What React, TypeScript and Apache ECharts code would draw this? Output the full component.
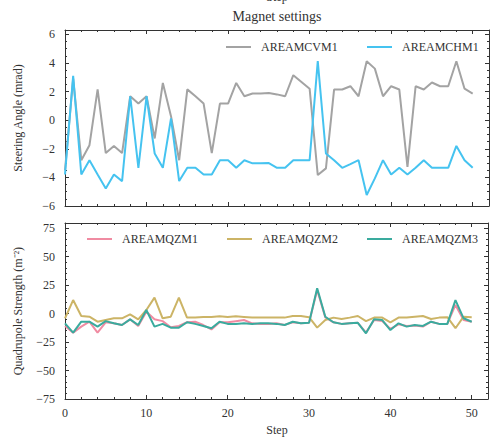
import React, { useEffect, useRef } from "react";
import * as echarts from "echarts";

const steps: number[] = Array.from({ length: 51 }, (_, i) => i);

const cvm1 = [-3.5, 2.9, -2.8, -1.75, 2.15, -2.3, -1.8, -2.3, 1.67, 1.16, 1.67, -1.28, 2.6, 0.28, -2.8, 2.15, 1.67, 1.16, -2.3, 1.16, 1.16, 2.6, 1.67, 1.86, 1.86, 1.9, 1.8, 1.67, 3.14, 2.67, 2.2, -3.84, -3.37, 2.14, 2.14, 2.37, 1.67, 4.12, 3.6, 1.67, 2.37, 2.14, -3.26, 2.37, 2.14, 2.63, 2.37, 2.37, 4.12, 2.2, 1.86];
const chm1 = [-3.8, 3.1, -3.8, -2.8, -3.8, -4.77, -3.8, -4.26, 1.67, -3.33, 1.67, -2.33, -3.33, 0.12, -4.26, -3.33, -3.33, -3.8, -3.8, -2.8, -2.8, -3.33, -2.8, -3.02, -3.02, -3.0, -3.33, -3.33, -2.8, -2.8, -2.8, 4.12, -2.33, -2.8, -3.33, -3.07, -2.8, -5.23, -4.07, -2.8, -3.8, -3.33, -3.8, -3.33, -2.8, -3.33, -3.33, -3.33, -1.8, -2.8, -3.33];

const qzm1 = [-11, -16.8, -11.5, -7.2, -16.8, -7.7, -8.6, -10.1, -5.1, -11, 1.6, -5.1, -6.7, -12, -10.9, -7.7, -7.2, -10.1, -14, -7.7, -7.7, -6.7, -5.7, -8.6, -9.1, -9.1, -8.6, -10, -7.7, -8.6, -8.2, 20.7, -3.5, -7.7, -9.1, -8.6, -8.2, -16.8, -5.7, -6.5, -13.5, -9.5, -11, -10.5, -11.5, -7.2, -9.1, -9.1, 7.5, -5.7, -7.2];
const qzm2 = [-4.2, 11.8, -2.2, -2.8, -7.2, -5.7, -4.2, -4.2, -0.7, -5.1, 3.1, 13.9, -4.2, -2.8, 13.9, -3.6, -3.5, -3, -3, -2.5, -3, -2.5, -3, -3.5, -3.5, -3.5, -3.6, -3.6, -2.2, -2.2, -3.2, -12.4, -5.7, -3.6, -4.8, -3.6, -2.2, -6.7, -3.6, -3.6, -7.7, -3.6, -3.6, -2.8, -2.2, -4.8, -3.6, -3.2, -12.9, -2.8, -3.2];
const qzm3 = [-8.6, -16.8, -7.2, -7.2, -11.5, -6.7, -8.6, -10.1, -5.1, -10.1, 3.1, -11.5, -9.1, -12.4, -12.4, -7.7, -9.1, -10.9, -13, -7.2, -9.1, -9.1, -8.6, -9.1, -8.6, -8.6, -9.1, -10.1, -7.2, -8.6, -8.2, 22.1, -2.8, -7.7, -9.1, -8.6, -8.2, -17.4, -5.1, -5.7, -14.5, -8.6, -11.5, -10.1, -10.9, -7.2, -9.1, -9.1, 11.8, -4.2, -7.2];

const topTicks = [-6, -4, -2, 0, 2, 4, 6];
const bottomTicks = [-75, -50, -25, 0, 25, 50, 75];
const xTicks = [0, 10, 20, 30, 40, 50];

const FONT = "Liberation Serif";
const INK = "#333";

const fmtMinus = (v: number) => String(v).replace("-", "\u2212");

function App() {
  const ref = useRef<HTMLDivElement>(null);
  useEffect(() => {
    if (!ref.current) return;
    const chart = echarts.init(ref.current, null, { renderer: "svg" });

    const pairs = (arr: number[]) => steps.map((s, i) => [s, arr[i]]);

    const xBase = (grid: number, pos: "top" | "bottom", labels: boolean) => ({
      type: "value",
      gridIndex: grid,
      position: pos,
      min: 0,
      max: 52,
      interval: 10,
      axisLine: { show: true, onZero: false, lineStyle: { color: INK, width: 1 } },
      axisTick: { show: true, inside: true, length: 4, lineStyle: { color: INK } },
      minorTick: { show: true, splitNumber: 5, length: 2, lineStyle: { color: INK } },
      splitLine: { show: false },
      axisLabel: {
        show: labels,
        margin: 8,
        fontFamily: FONT,
        fontSize: 12,
        color: INK,
        formatter: (v: number) => (xTicks.includes(v) ? String(v) : ""),
      },
    });

    const yBase = (
      grid: number,
      pos: "left" | "right",
      labels: boolean,
      min: number,
      max: number,
      interval: number,
      minor: number,
      ticks: number[]
    ) => ({
      type: "value",
      gridIndex: grid,
      position: pos,
      min,
      max,
      interval,
      axisLine: { show: true, onZero: false, lineStyle: { color: INK, width: 1 } },
      axisTick: { show: true, inside: true, length: 4, lineStyle: { color: INK } },
      minorTick: { show: true, splitNumber: minor, length: 2, lineStyle: { color: INK } },
      splitLine: { show: false },
      axisLabel: {
        show: labels,
        margin: 10,
        fontFamily: FONT,
        fontSize: 12,
        color: INK,
        formatter: (v: number) => (ticks.includes(v) ? fmtMinus(v) : ""),
      },
    });

    const lineSeries = (name: string, data: number[], color: string, xi: number, yi: number) => ({
      name,
      type: "line",
      xAxisIndex: xi,
      yAxisIndex: yi,
      data: pairs(data),
      symbol: "none",
      lineStyle: { color, width: 2 },
      itemStyle: { color },
      z: 3,
    });

    const legendItem = (name: string, left: number, top: number) => ({
      data: [name],
      left,
      top,
      icon: "rect",
      itemWidth: 25,
      itemHeight: 2,
      selectedMode: false,
      padding: 0,
      textStyle: { fontFamily: FONT, fontSize: 12, color: INK, padding: [0, 0, 0, 5] },
    });

    const colors = {
      cvm1: "#a3a3a3",
      chm1: "#45c3f0",
      qzm1: "#f08ba2",
      qzm2: "#ccb466",
      qzm3: "#3aab9e",
    };

    chart.setOption({
      animation: false,
      backgroundColor: "#ffffff",
      grid: [
        { left: 65, top: 30, width: 424, height: 176 },
        { left: 65, top: 223, width: 424, height: 176 },
      ],
      xAxis: [
        xBase(0, "bottom", false),
        xBase(0, "top", false),
        xBase(1, "bottom", true),
        xBase(1, "top", false),
      ],
      yAxis: [
        yBase(0, "left", true, -6, 6.3, 2, 4, topTicks),
        yBase(0, "right", false, -6, 6.3, 2, 4, topTicks),
        yBase(1, "left", true, -75, 79.4, 25, 5, bottomTicks),
        yBase(1, "right", false, -75, 79.4, 25, 5, bottomTicks),
      ],
      legend: [
        legendItem("AREAMCVM1", 226, 41),
        legendItem("AREAMCHM1", 367, 41),
        legendItem("AREAMQZM1", 87, 233),
        legendItem("AREAMQZM2", 227, 233),
        legendItem("AREAMQZM3", 367, 233),
      ],
      series: [
        lineSeries("AREAMCVM1", cvm1, colors.cvm1, 0, 0),
        lineSeries("AREAMCHM1", chm1, colors.chm1, 0, 0),
        lineSeries("AREAMQZM1", qzm1, colors.qzm1, 2, 2),
        lineSeries("AREAMQZM2", qzm2, colors.qzm2, 2, 2),
        lineSeries("AREAMQZM3", qzm3, colors.qzm3, 2, 2),
      ],
      graphic: [
        {
          type: "text",
          x: 277,
          y: -3,
          style: { text: "Step", fontFamily: FONT, fontSize: 12, fill: INK, textAlign: "center", textVerticalAlign: "middle" },
        },
        {
          type: "text",
          x: 277,
          y: 16,
          style: { text: "Magnet settings", fontFamily: FONT, fontSize: 14, fill: INK, textAlign: "center", textVerticalAlign: "middle" },
        },
        {
          type: "text",
          x: 277,
          y: 430,
          style: { text: "Step", fontFamily: FONT, fontSize: 12, fill: INK, textAlign: "center", textVerticalAlign: "middle" },
        },
        {
          type: "text",
          x: 18,
          y: 118,
          rotation: Math.PI / 2,
          style: { text: "Steering Angle (mrad)", fontFamily: FONT, fontSize: 12, fill: INK, textAlign: "center", textVerticalAlign: "middle" },
        },
        {
          type: "text",
          x: 18,
          y: 311,
          rotation: Math.PI / 2,
          style: { text: "Quadrupole Strength (m\u207B\u00B2)", fontFamily: FONT, fontSize: 12, fill: INK, textAlign: "center", textVerticalAlign: "middle" },
        },
      ],
    });

    return () => chart.dispose();
  }, []);

  return (
    <div
      ref={ref}
      style={{ position: "fixed", left: 0, top: 0, width: 491, height: 437, background: "#fff" }}
    />
  );
}

export default App;
